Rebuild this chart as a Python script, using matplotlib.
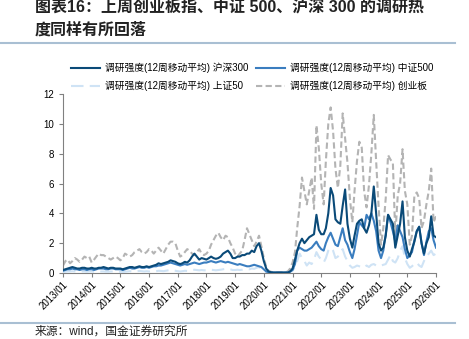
import matplotlib
matplotlib.use("Agg")
import matplotlib.pyplot as plt
import numpy as np
import pandas as pd
from matplotlib.lines import Line2D

plt.rcParams['font.family'] = ['Liberation Sans', 'Noto Sans CJK SC', 'DejaVu Sans']

dates = pd.date_range("2013-01-01", "2026-01-01", freq="MS")

hs300 = [
    0.2, 0.25, 0.3, 0.35, 0.4, 0.35, 0.3, 0.3, 0.35, 0.35, 0.3, 0.3,
    0.35, 0.3, 0.3, 0.35, 0.35, 0.4, 0.35, 0.3, 0.35, 0.35, 0.3, 0.3,
    0.3, 0.25, 0.3, 0.35, 0.4, 0.4, 0.35, 0.4, 0.45, 0.4, 0.4, 0.45,
    0.4, 0.45, 0.5, 0.55, 0.65, 0.6, 0.65, 0.7, 0.75, 0.85, 0.8, 0.75,
    0.65, 0.6, 0.65, 0.75, 0.7, 0.85, 1.1, 1.3, 1.1, 0.9, 1.0, 0.95,
    0.9, 1.0, 1.1, 1.0, 0.95, 1.0, 1.1, 1.3, 1.4, 1.5, 1.3, 1.0,
    1.0, 1.1, 1.1, 1.2, 1.2, 1.3, 1.3, 1.5, 1.4, 1.8, 2.0, 1.5,
    0.8, 0.3, 0.1, 0.05, 0.03, 0.03, 0.03, 0.03, 0.03, 0.03, 0.03, 0.1,
    0.3, 0.9, 1.5, 2.0, 2.3, 2.0, 2.2, 2.4, 2.5, 2.6, 3.9, 2.9,
    2.6, 2.6, 3.0, 4.0, 5.7, 5.2, 3.6, 3.4, 3.3, 4.5, 5.6, 3.3,
    2.3, 1.7, 2.5, 3.3, 3.5, 3.6, 3.0, 2.7, 3.2, 4.0, 5.8, 4.0,
    2.0, 1.5, 1.7, 2.5, 3.9, 3.6, 3.3, 1.7, 2.5, 3.3, 4.8, 2.4,
    1.5, 1.1, 1.6, 2.1, 2.8, 3.1, 2.0, 1.3, 2.0, 2.4, 3.8, 2.5,
    2.4,
]

zz500 = [
    0.15, 0.2, 0.25, 0.25, 0.3, 0.25, 0.25, 0.2, 0.25, 0.25, 0.2, 0.25,
    0.25, 0.2, 0.25, 0.3, 0.3, 0.3, 0.25, 0.25, 0.3, 0.3, 0.25, 0.25,
    0.25, 0.2, 0.25, 0.3, 0.35, 0.3, 0.3, 0.35, 0.4, 0.35, 0.35, 0.4,
    0.35, 0.4, 0.45, 0.45, 0.5, 0.5, 0.55, 0.6, 0.65, 0.7, 0.65, 0.6,
    0.55, 0.5, 0.55, 0.6, 0.55, 0.6, 0.65, 0.7, 0.65, 0.6, 0.65, 0.7,
    0.7, 0.75, 0.8, 0.75, 0.7, 0.75, 0.8, 0.75, 0.7, 0.75, 0.7, 0.65,
    0.6, 0.55, 0.6, 0.55, 0.5, 0.45, 0.45, 0.5, 0.55, 0.5, 0.45, 0.4,
    0.25, 0.1, 0.05, 0.03, 0.03, 0.03, 0.03, 0.03, 0.03, 0.03, 0.03, 0.1,
    0.2, 0.6, 1.5, 1.7, 1.6, 1.5, 1.5, 1.6, 1.7, 1.9, 2.1, 1.8,
    1.6, 1.5, 2.0, 2.4, 2.7, 2.3, 1.9, 1.8, 2.4, 3.0, 2.2, 1.9,
    1.4, 1.0, 1.6, 2.5, 3.4, 3.2, 3.0, 3.9, 3.6, 4.0, 3.5, 2.8,
    1.5, 1.0, 1.5, 2.6, 3.9, 3.4, 2.8, 2.1, 3.2, 2.8, 2.4, 1.6,
    1.0, 1.2, 1.4, 2.2, 2.8, 3.1, 2.0, 1.2, 2.1, 2.8, 3.0, 2.2,
    1.7,
]

sz50 = [
    0.05, 0.08, 0.1, 0.1, 0.12, 0.1, 0.08, 0.08, 0.1, 0.1, 0.08, 0.1,
    0.1, 0.08, 0.1, 0.12, 0.1, 0.1, 0.08, 0.08, 0.1, 0.1, 0.08, 0.08,
    0.08, 0.06, 0.08, 0.1, 0.12, 0.1, 0.1, 0.12, 0.14, 0.12, 0.1, 0.12,
    0.1, 0.12, 0.14, 0.12, 0.15, 0.14, 0.12, 0.15, 0.18, 0.2, 0.18, 0.15,
    0.12, 0.1, 0.12, 0.15, 0.14, 0.16, 0.2, 0.22, 0.2, 0.18, 0.2, 0.18,
    0.18, 0.2, 0.22, 0.2, 0.18, 0.2, 0.22, 0.25, 0.28, 0.3, 0.25, 0.2,
    0.2, 0.22, 0.2, 0.22, 0.25, 0.28, 0.25, 0.3, 0.28, 0.35, 0.4, 0.3,
    0.15, 0.05, 0.02, 0.02, 0.02, 0.02, 0.02, 0.02, 0.02, 0.02, 0.02, 0.05,
    0.15, 0.4, 0.8, 1.3, 1.0, 0.8, 0.5, 0.7, 0.6, 0.9, 1.4, 1.1,
    0.9, 0.7, 1.0, 1.5, 1.7, 1.5, 1.0, 1.1, 1.4, 1.6, 1.1, 0.8,
    0.5, 0.35, 0.4, 0.5, 0.45, 0.4, 0.35, 0.5, 0.4, 0.55, 0.6, 0.5,
    0.45, 0.5, 0.55, 0.6, 0.9, 1.2, 0.8, 0.7, 1.0, 1.5, 1.8, 1.0,
    0.6, 0.35, 0.45, 0.6, 0.7, 0.5, 0.4, 0.8, 1.1, 1.3, 1.5, 1.2,
    1.3,
]

cyb = [
    0.5, 0.8, 0.9, 0.65, 0.8, 1.0, 0.9, 0.75, 0.9, 1.1, 1.0, 1.1,
    0.7, 0.9, 1.1, 1.3, 1.2, 1.2, 1.1, 1.0, 0.9, 1.0, 1.1, 1.0,
    0.85, 1.0, 1.3, 1.2, 1.1, 1.2, 1.4, 1.5, 1.6, 1.4, 1.3, 1.4,
    1.6, 1.5, 1.3, 1.5, 1.7, 1.5, 1.3, 1.6, 1.9, 2.1, 2.1, 2.0,
    1.5, 1.1, 1.2, 1.4, 1.6, 1.5, 1.3, 1.2, 1.4, 1.6, 1.3, 1.2,
    1.3, 1.5, 1.9, 2.2, 2.5, 2.7, 2.4, 2.2, 2.5, 2.4, 2.0, 1.7,
    1.3, 1.1, 1.3, 1.5, 2.2, 3.0, 2.6, 2.2, 1.8, 2.1, 2.5, 1.8,
    1.0, 0.4, 0.15, 0.08, 0.05, 0.05, 0.05, 0.05, 0.05, 0.05, 0.1, 0.3,
    0.7, 1.4, 3.0, 4.5, 6.4, 5.5, 4.6, 5.5, 6.4, 4.3, 9.9, 8.4,
    6.0, 4.6, 7.5, 10.0, 11.1, 9.5, 7.0, 5.7, 7.2, 10.7, 9.0, 7.4,
    5.0, 3.4, 5.5, 7.5, 8.8, 8.4, 5.5, 4.4, 5.9, 8.0, 10.6, 7.5,
    4.5, 1.9, 3.0, 5.0, 7.9, 7.6, 7.4, 2.5, 5.2, 6.0, 8.3, 5.5,
    4.6, 1.9, 2.5, 5.2, 5.4, 5.0, 3.0, 3.5, 4.6, 5.5, 7.0, 3.4,
    3.8,
]

labels = ["调研强度(12周移动平均) 沪深300", "调研强度(12周移动平均) 中证500",
          "调研强度(12周移动平均) 上证50", "调研强度(12周移动平均) 创业板"]
tick_years = list(range(2013, 2027))
tick_labels = [f"{y}/01" for y in tick_years]

title = "图表16：上周创业板指、中证 500、沪深 300 的调研热\n度同样有所回落"
source = "来源：wind，国金证券研究所"

c_dark = "#0a4a78"
c_mid = "#3a7dbf"
c_light = "#cfe3f5"
c_gray = "#b4b4b4"
dash_light = (0, (6, 3))
dash_gray = (0, (3, 1.6))

fig = plt.figure(figsize=(4.69, 3.39), dpi=100)
ax = fig.add_axes([63/469, 1 - 273/339, (436 - 63)/469, (273 - 94)/339])

ax.plot(dates, cyb, color=c_gray, lw=1.5, ls=dash_gray, zorder=2)
ax.plot(dates, sz50, color=c_light, lw=1.5, ls=dash_light, zorder=3)
ax.plot(dates, zz500, color=c_mid, lw=1.5, zorder=4)
ax.plot(dates, hs300, color=c_dark, lw=1.5, zorder=5)

ax.set_ylim(0, 12)
ax.set_yticks(range(0, 13, 2))
ax.set_xlim(pd.Timestamp("2013-01-01"), pd.Timestamp("2026-01-01"))
ax.set_xticks([pd.Timestamp(f"{y}-01-01") for y in tick_years])
ax.set_xticklabels(tick_labels, rotation=45, ha="right", rotation_mode="anchor", fontsize=7)
ax.tick_params(axis="y", labelsize=7, length=3, color="#808080")
ax.tick_params(axis="x", length=3, color="#808080", pad=2)
for s in ["top", "right"]:
    ax.spines[s].set_visible(False)
for s in ["left", "bottom"]:
    ax.spines[s].set_color("#808080")

h_dark = Line2D([], [], color=c_dark, lw=1.5)
h_mid = Line2D([], [], color=c_mid, lw=1.5)
h_light = Line2D([], [], color=c_light, lw=1.5, ls=dash_light)
h_gray = Line2D([], [], color=c_gray, lw=1.5, ls=dash_gray)
# column-major fill: column 1 = 沪深300, 上证50 ; column 2 = 中证500, 创业板
fig.legend([h_dark, h_light, h_mid, h_gray],
           [labels[0], labels[2], labels[1], labels[3]],
           ncol=2, loc="center", bbox_to_anchor=(252/469, 1 - 77/339),
           frameon=False, fontsize=7, handlelength=3, columnspacing=0.8,
           handletextpad=0.5, labelspacing=0.75)

fig.text(35/469, 1 - 18/339, title, fontsize=11.5, fontweight="bold", color="#222222",
         va="center", ha="left", linespacing=1.6)

fig.add_artist(Line2D([0, 455/469], [1 - 43/339, 1 - 43/339], color="#a9bfd3", lw=1.5,
                      transform=fig.transFigure))
fig.add_artist(Line2D([0, 455/469], [1 - 323/339, 1 - 323/339], color="#a9bfd3", lw=1.5,
                      transform=fig.transFigure))
fig.text(35/469, 1 - 332/339, source, fontsize=8.5, color="#222222", va="center", ha="left")

fig.savefig("out.png", dpi=100)
